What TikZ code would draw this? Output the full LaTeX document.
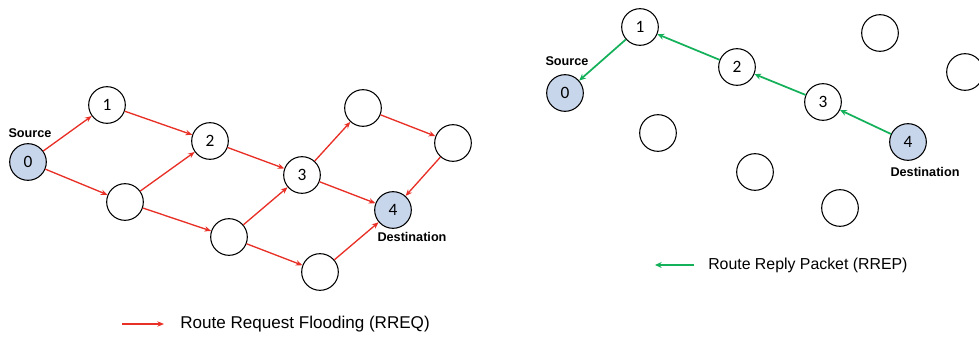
\documentclass[tikz,border=0pt]{standalone}
\usepackage{fontspec}
\setmainfont{Liberation Sans}
\newfontfamily\digitfont{Carlito}
\usetikzlibrary{arrows.meta}

\definecolor{reqred}{RGB}{232,48,38}
\definecolor{repgreen}{RGB}{20,176,90}
\definecolor{endblue}{RGB}{200,214,236}

\tikzstyle{node}=[circle, draw, text centered, minimum size=27.5pt, inner sep=0pt, line width=0.8pt, font=\digitfont\fontsize{13}{13}\selectfont]
\tikzstyle{endnode}=[node, fill=endblue]
\tikzstyle{tag}=[font=\bfseries\fontsize{9.5}{10}\selectfont]
\tikzstyle{legend}=[anchor=west, inner sep=0pt]

\begin{document}
\begin{tikzpicture}[x=0.75pt, y=-0.75pt]
        \useasboundingbox (0, 0) rectangle (979, 336);

        % route request flooding
        \node[endnode](0) at (28, 162) {0};
        \node[node](1) at (107, 105) {1};
        \node[node](2) at (210, 141) {2};
        \node[node](3) at (302, 175) {3};
        \node[endnode](4) at (393, 210) {4};

        \node[node](l1) at (125, 202) {};
        \node[node](l2) at (229, 237) {};
        \node[node](l3) at (320, 272) {};
        \node[node](l4) at (363, 108) {};
        \node[node](l5) at (453, 143) {};

        \node[tag](src) at (30, 133) {Source};
        \node[tag](dst) at (412, 237) {Destination};

        \begin{scope}[every path/.style={-{Stealth[length=5pt, width=4pt]}, draw=reqred, line width=1pt}]
            \draw (0) -- (1);
            \draw (0) -- (l1);
            \draw (1) -- (2);
            \draw (l1) -- (2);
            \draw (l1) -- (l2);
            \draw (2) -- (3);
            \draw (l2) -- (3);
            \draw (l2) -- (l3);
            \draw (3) -- (l4);
            \draw (3) -- (4);
            \draw (l4) -- (l5);
            \draw (l5) -- (4);
            \draw (l3) -- (4);
        \end{scope}

        % route reply packet
        \node[endnode](r0) at (565, 93) {0};
        \node[node](r1) at (640, 27) {1};
        \node[node](r2) at (737, 67) {2};
        \node[node](r3) at (823, 102) {3};
        \node[endnode](r4) at (908, 142) {4};

        \node[node](r5) at (880, 33) {};
        \node[node](r6) at (965, 72) {};
        \node[node](r7) at (658, 133) {};
        \node[node](r8) at (755, 172) {};
        \node[node](r9) at (840, 208) {};

        \node[tag](rsrc) at (567, 61) {Source};
        \node[tag](rdst) at (925, 172) {Destination};

        \begin{scope}[every path/.style={-{Stealth[length=5pt, width=4.5pt]}, draw=repgreen, line width=1.3pt}]
            \draw (r4) -- (r3);
            \draw (r3) -- (r2);
            \draw (r2) -- (r1);
            \draw (r1) -- (r0);
        \end{scope}

        % legends
        \coordinate (reqa) at (122, 324);
        \coordinate (reqb) at (164, 324);
        \draw[-{Stealth[length=5pt, width=4pt]}, draw=reqred, line width=1pt] (reqa) -- (reqb);
        \node[legend, font=\fontsize{12.8}{14}\selectfont](reqtext) at (180, 324) {Route Request Flooding (RREQ)};

        \coordinate (repa) at (694, 265);
        \coordinate (repb) at (655, 265);
        \draw[-{Stealth[length=5pt, width=4.5pt]}, draw=repgreen, line width=1.3pt] (repa) -- (repb);
        \node[legend, font=\fontsize{11.9}{13}\selectfont](reptext) at (708, 265) {Route Reply Packet (RREP)};
    \end{tikzpicture}
\end{document}
